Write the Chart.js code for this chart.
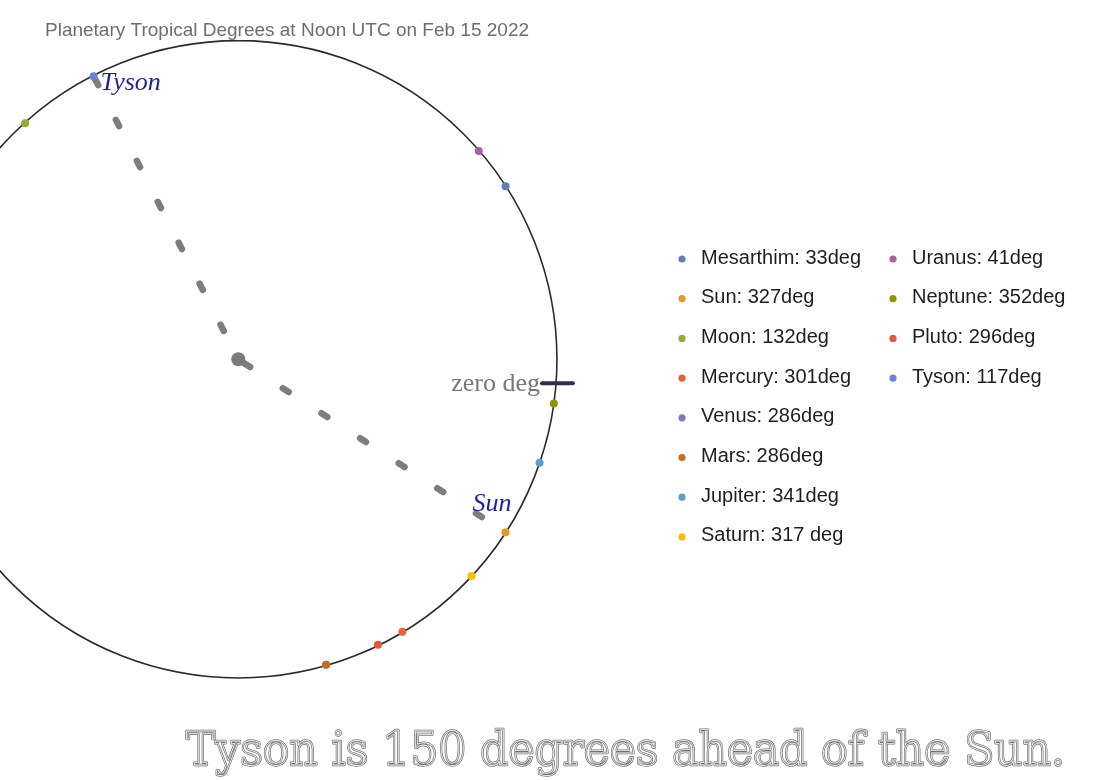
<!DOCTYPE html>
<html>
<head>
<meta charset="utf-8">
<script src="https://cdn.jsdelivr.net/npm/chart.js@4"></script>
<style>
html,body{margin:0;padding:0;background:#fff;}
#wrap{width:1100px;height:780px;position:relative;}
</style>
</head>
<body>
<div id="wrap"><canvas id="c" width="1100" height="780"></canvas></div>
<script>
// ---- data ----
const bodies = ['Mesarthim','Sun','Moon','Mercury','Venus','Mars','Jupiter','Saturn','Uranus','Neptune','Pluto','Tyson'];
const degrees = [33,327,132,301,286,286,341,317,41,352,296,117];
const legendLabels = ['Mesarthim: 33deg','Sun: 327deg','Moon: 132deg','Mercury: 301deg','Venus: 286deg','Mars: 286deg','Jupiter: 341deg','Saturn: 317 deg','Uranus: 41deg','Neptune: 352deg','Pluto: 296deg','Tyson: 117deg'];
const bodyColors = ['#5E81B5','#E19C24','#8FB032','#EB6235','#8778B3','#C56E1A','#5D9EC7','#FFBF00','#A5609D','#929600','#E95536','#6685D9'];
const titleText = 'Planetary Tropical Degrees at Noon UTC on Feb 15 2022';
const captionText = 'Tyson is 150 degrees ahead of the Sun.';
const zeroLabel = 'zero deg';
const zeroTick = [{x:0.953,y:-0.075},{x:1.05,y:-0.075}];
const tysonDeg = degrees[bodies.indexOf('Tyson')];
const sunDeg = degrees[bodies.indexOf('Sun')];

const rad = d => d*Math.PI/180;
const pt = d => ({x:Math.cos(rad(d)), y:Math.sin(rad(d))});

const datasets = bodies.map((b,i)=>({
  label:b, data:[pt(degrees[i])],
  backgroundColor:bodyColors[i], borderWidth:0, pointRadius:4, pointHoverRadius:4,
  order:50-i
}));
datasets.push({
  label:'arc', data:[pt(tysonDeg),{x:0,y:0},pt(sunDeg)], showLine:true,
  borderColor:'#7d7d7d', borderWidth:6.5, borderDash:[7,39], borderDashOffset:43,
  borderCapStyle:'round', tension:0,
  pointRadius:[0,7,0], pointBackgroundColor:'#7a7a7a', pointBorderWidth:0,
  order:100
});
datasets.push({
  label:'zero', data:zeroTick, showLine:true, borderColor:'#2f2f52', borderWidth:4,
  borderCapStyle:'round', pointRadius:0, order:0
});

const cxPix=236, cyPix=359, R=321;
const decor = {
  id:'decor',
  beforeDatasetsDraw(chart){
    const {ctx, scales:{x,y}} = chart;
    const cx=x.getPixelForValue(0), cy=y.getPixelForValue(0), r=x.getPixelForValue(1)-cx;
    ctx.save();
    ctx.beginPath(); ctx.arc(cx,cy,r,0,Math.PI*2);
    ctx.strokeStyle='#2a2a2a'; ctx.lineWidth=1.6; ctx.stroke();
    ctx.restore();
  },
  afterDatasetsDraw(chart){
    const {ctx, scales:{x,y}} = chart;
    ctx.save();
    // labels
    const tp = pt(tysonDeg), sp = pt(sunDeg);
    ctx.font='italic 26px "Liberation Serif", serif';
    ctx.fillStyle='#1f1fa0'; ctx.textBaseline='alphabetic'; ctx.textAlign='left';
    ctx.fillText('Tyson', x.getPixelForValue(tp.x)+7, y.getPixelForValue(tp.y)+14);
    ctx.fillText('Sun', x.getPixelForValue(sp.x)-33, y.getPixelForValue(sp.y)-21);
    ctx.font='26px "Liberation Serif", serif';
    ctx.fillStyle='#777'; ctx.textAlign='right';
    ctx.fillText(zeroLabel, x.getPixelForValue(zeroTick[0].x)-2, y.getPixelForValue(zeroTick[0].y)+8);
    // title
    ctx.font='19px "Liberation Sans", Arial, sans-serif';
    const tw = ctx.measureText(titleText).width;
    ctx.fillStyle='#fff'; ctx.fillRect(45,14,tw,26);
    ctx.fillStyle='#6e6e6e'; ctx.textAlign='left';
    ctx.fillText(titleText,45,36);
    // legend
    ctx.font='20px "Liberation Sans", Arial, sans-serif';
    ctx.textBaseline='middle';
    bodies.forEach((b,i)=>{
      const col = i<8?0:1, row = i<8?i:i-8;
      const dx = col? 893:682, tx = col?912:701, ry = 258+39.7*row;
      ctx.beginPath(); ctx.arc(dx,ry+1,3.6,0,Math.PI*2);
      ctx.fillStyle=bodyColors[i]; ctx.fill();
      ctx.fillStyle='#1e1e1e'; ctx.fillText(legendLabels[i],tx,ry);
    });
    // caption (outlined)
    ctx.textBaseline='alphabetic';
    ctx.font='46px "DejaVu Serif", serif';
    const cw = ctx.measureText(captionText).width;
    const sx = 879/cw;
    ctx.translate(186,765); ctx.scale(sx,1);
    ctx.lineJoin='round';
    ctx.fillStyle='#fff'; ctx.fillText(captionText,0,0);
    ctx.strokeStyle='#707070'; ctx.lineWidth=2.3; ctx.strokeText(captionText,0,0);
    ctx.strokeStyle='#f4f4f4'; ctx.lineWidth=0.8; ctx.strokeText(captionText,0,0);
    ctx.restore();
  }
};

new Chart(document.getElementById('c'),{
  type:'scatter',
  data:{datasets},
  options:{
    responsive:false, animation:false, events:[],
    layout:{padding:0},
    plugins:{legend:{display:false}, tooltip:{enabled:false}, title:{display:false}},
    scales:{
      x:{type:'linear', display:false, min:-cxPix/R, max:(1100-cxPix)/R},
      y:{type:'linear', display:false, min:-(780-cyPix)/R, max:cyPix/R}
    }
  },
  plugins:[decor]
});
</script>
</body>
</html>
